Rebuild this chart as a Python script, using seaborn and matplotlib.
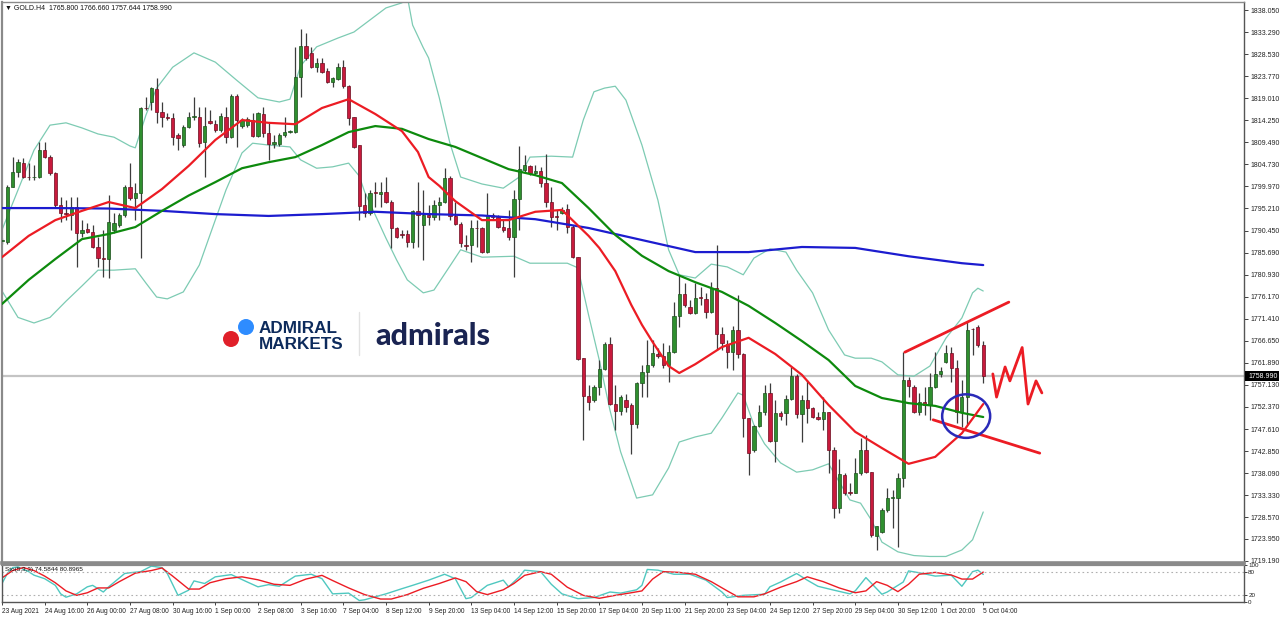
import numpy as np
import pandas as pd
import seaborn as sns
import matplotlib
matplotlib.use("Agg")
import matplotlib.pyplot as plt
from matplotlib.patches import Ellipse, Rectangle
from matplotlib.lines import Line2D

# ---------------- data ----------------
symbol_header = "\u25BC GOLD.H4  1765.800 1766.660 1757.644 1758.990"
stoch_header = "Sto(5,3,3) 74.5844 80.8965"
last_price = 1758.99

opens = [
    1788.2, 1788.0, 1799.8, 1803.1, 1805.0, 1802.0, 1801.9, 1802.0, 1807.8, 1806.3,
    1802.9, 1796.0, 1794.2, 1793.8, 1795.5, 1789.9, 1790.8, 1790.1, 1786.9, 1784.5,
    1784.3, 1790.6, 1791.6, 1793.8, 1799.8, 1797.5, 1798.5, 1816.9, 1818.2, 1821.0,
    1816.0, 1814.9, 1814.7, 1811.1, 1808.9, 1812.8, 1814.9, 1814.9, 1809.6, 1814.1,
    1813.4, 1812.2, 1814.9, 1810.6, 1819.5, 1813.0, 1813.2, 1814.3, 1810.8, 1815.6,
    1811.5, 1809.1, 1809.1, 1811.1, 1811.7, 1811.8, 1823.6, 1830.3, 1828.8, 1825.7,
    1826.6, 1824.9, 1822.5, 1823.2, 1825.7, 1821.6, 1814.9, 1808.9, 1796.0, 1794.2,
    1798.6, 1798.3, 1798.8, 1796.6, 1791.0, 1789.5, 1789.7, 1788.0, 1794.7, 1791.6,
    1793.8, 1793.4, 1796.0, 1796.6, 1801.8, 1793.6, 1791.9, 1787.3, 1787.3, 1791.0,
    1791.0, 1785.8, 1793.8, 1793.4, 1791.2, 1791.0, 1789.1, 1797.3, 1803.5, 1804.4,
    1802.9, 1803.3, 1800.7, 1796.6, 1793.4, 1794.2, 1795.1, 1791.2, 1784.7, 1762.9,
    1754.7, 1753.9, 1756.7, 1760.6, 1766.0, 1753.0, 1751.5, 1753.9, 1752.8, 1748.7,
    1757.5, 1759.9, 1761.4, 1763.8, 1763.4, 1761.4, 1764.2, 1772.0, 1776.7, 1773.9,
    1772.6, 1775.9, 1775.7, 1772.9, 1778.0, 1768.1, 1766.0, 1764.2, 1769.0, 1763.8,
    1750.0, 1743.1, 1748.3, 1751.3, 1755.4, 1745.0, 1751.1, 1751.1, 1754.1, 1759.0,
    1750.8, 1753.9, 1752.1, 1750.2, 1749.8, 1751.3, 1743.1, 1730.6, 1737.7, 1734.0,
    1733.9, 1738.1, 1743.1, 1738.3, 1724.5, 1725.4, 1730.1, 1732.7, 1732.7, 1737.0,
    1758.2, 1756.7, 1751.3, 1753.4, 1752.8, 1756.7, 1759.5, 1762.1, 1764.0, 1760.8,
    1751.3, 1754.5, 1769.2, 1769.6, 1765.8]
highs = [
    1788.8, 1800.3, 1806.3, 1805.9, 1806.1, 1805.0, 1804.6, 1809.6, 1809.6, 1806.8,
    1803.1, 1797.7, 1797.0, 1797.7, 1797.7, 1792.7, 1792.1, 1791.6, 1789.1, 1790.6,
    1798.1, 1794.2, 1794.2, 1800.3, 1805.0, 1800.7, 1817.1, 1819.3, 1821.4, 1823.4,
    1818.2, 1815.8, 1815.8, 1811.5, 1813.2, 1816.0, 1819.3, 1817.1, 1817.1, 1816.5,
    1814.3, 1815.8, 1817.1, 1819.9, 1819.9, 1814.7, 1814.9, 1815.8, 1816.0, 1817.1,
    1813.7, 1811.1, 1811.5, 1814.9, 1812.2, 1830.1, 1833.9, 1833.1, 1830.1, 1827.7,
    1827.7, 1825.5, 1823.6, 1826.6, 1827.3, 1821.9, 1814.9, 1808.9, 1798.6, 1799.2,
    1800.9, 1800.9, 1802.0, 1797.0, 1791.2, 1790.6, 1790.6, 1794.9, 1800.9, 1799.2,
    1796.0, 1797.0, 1797.7, 1803.9, 1802.2, 1796.6, 1792.3, 1789.5, 1792.7, 1792.7,
    1791.2, 1798.6, 1794.2, 1793.8, 1792.7, 1794.9, 1799.2, 1808.7, 1806.8, 1804.6,
    1804.6, 1804.2, 1807.0, 1799.8, 1794.9, 1795.5, 1796.2, 1791.6, 1784.7, 1762.9,
    1757.1, 1757.1, 1762.5, 1766.4, 1767.5, 1757.1, 1754.9, 1755.2, 1753.2, 1757.8,
    1761.4, 1766.8, 1766.8, 1765.1, 1766.2, 1765.7, 1775.0, 1780.8, 1779.1, 1775.5,
    1779.1, 1778.3, 1776.9, 1779.3, 1787.3, 1769.6, 1766.8, 1769.8, 1776.5, 1764.0,
    1750.0, 1748.5, 1752.8, 1757.1, 1757.5, 1753.9, 1751.5, 1754.9, 1761.0, 1759.5,
    1754.9, 1758.2, 1752.4, 1751.3, 1754.5, 1751.3, 1743.7, 1741.1, 1738.1, 1735.9,
    1741.3, 1745.7, 1746.3, 1738.3, 1726.6, 1730.6, 1734.9, 1734.5, 1738.1, 1764.2,
    1758.8, 1757.1, 1755.4, 1756.7, 1759.7, 1764.2, 1761.0, 1765.7, 1765.3, 1762.5,
    1758.2, 1770.7, 1769.4, 1770.1, 1766.66]
lows = [
    1787.5, 1787.5, 1799.8, 1802.0, 1801.8, 1801.4, 1801.4, 1801.8, 1806.1, 1802.4,
    1795.5, 1792.3, 1792.7, 1790.6, 1782.6, 1789.1, 1789.9, 1786.7, 1782.6, 1780.4,
    1780.2, 1789.9, 1791.2, 1793.4, 1797.0, 1792.7, 1784.5, 1816.5, 1816.5, 1813.7,
    1812.8, 1814.3, 1808.9, 1807.8, 1808.5, 1812.6, 1814.3, 1808.5, 1802.0, 1813.4,
    1811.7, 1811.7, 1809.3, 1810.4, 1808.5, 1812.6, 1812.8, 1810.6, 1810.6, 1810.6,
    1805.7, 1808.3, 1808.7, 1810.6, 1811.5, 1811.5, 1819.3, 1827.3, 1825.5, 1824.7,
    1824.5, 1822.3, 1821.4, 1822.9, 1821.2, 1813.2, 1808.3, 1792.7, 1793.4, 1793.8,
    1795.5, 1795.5, 1796.4, 1786.7, 1788.8, 1788.8, 1786.9, 1786.7, 1786.9, 1784.1,
    1791.6, 1792.7, 1792.7, 1796.4, 1792.7, 1791.6, 1786.9, 1786.3, 1783.7, 1786.9,
    1785.6, 1785.6, 1792.7, 1791.0, 1790.1, 1788.4, 1780.4, 1790.6, 1802.9, 1802.4,
    1802.4, 1799.8, 1795.5, 1791.2, 1790.6, 1794.0, 1789.9, 1784.5, 1762.5, 1745.2,
    1751.7, 1753.4, 1754.9, 1760.4, 1752.8, 1747.4, 1750.6, 1751.3, 1742.2, 1747.8,
    1754.5, 1754.5, 1761.0, 1762.9, 1760.8, 1757.7, 1764.0, 1769.6, 1773.9, 1772.4,
    1772.4, 1774.4, 1771.6, 1772.6, 1764.7, 1764.7, 1760.8, 1760.4, 1762.9, 1745.9,
    1737.7, 1742.7, 1748.1, 1750.6, 1744.8, 1740.5, 1749.6, 1748.5, 1753.9, 1750.0,
    1744.8, 1748.9, 1750.0, 1749.6, 1747.4, 1738.1, 1728.4, 1729.5, 1733.4, 1733.4,
    1733.8, 1737.7, 1738.1, 1724.3, 1721.5, 1725.2, 1729.7, 1726.2, 1722.1, 1735.1,
    1754.5, 1751.1, 1750.6, 1750.6, 1749.6, 1756.5, 1758.8, 1761.9, 1757.7, 1748.9,
    1748.1, 1748.5, 1763.6, 1765.3, 1757.644]
closes = [
    1788.2, 1799.8, 1803.1, 1805.2, 1802.0, 1801.9, 1802.0, 1807.8, 1806.3, 1802.9,
    1796.0, 1794.2, 1794.1, 1795.5, 1789.9, 1790.6, 1790.1, 1786.9, 1784.5, 1784.4,
    1792.3, 1792.1, 1793.8, 1799.8, 1797.5, 1798.5, 1816.9, 1816.8, 1821.2, 1816.0,
    1814.9, 1814.7, 1810.6, 1810.4, 1812.8, 1814.9, 1815.2, 1809.4, 1813.0, 1813.7,
    1812.2, 1815.2, 1810.6, 1819.5, 1814.3, 1814.3, 1814.5, 1810.8, 1815.8, 1811.5,
    1809.1, 1809.6, 1811.1, 1811.7, 1811.8, 1823.6, 1830.3, 1827.7, 1825.7, 1826.6,
    1824.7, 1822.5, 1823.4, 1825.7, 1821.6, 1814.7, 1808.5, 1795.8, 1794.2, 1798.6,
    1798.5, 1798.8, 1796.6, 1791.0, 1789.1, 1789.4, 1788.0, 1794.7, 1793.8, 1793.8,
    1793.4, 1796.0, 1796.6, 1801.8, 1793.6, 1791.9, 1787.8, 1787.2, 1791.0, 1790.9,
    1785.8, 1793.8, 1793.4, 1791.2, 1790.6, 1789.1, 1797.3, 1803.7, 1804.6, 1802.9,
    1803.3, 1800.7, 1796.6, 1793.4, 1793.3, 1794.9, 1791.2, 1784.7, 1762.7, 1754.7,
    1753.4, 1756.7, 1760.6, 1766.0, 1753.0, 1751.5, 1754.5, 1752.4, 1748.7, 1757.5,
    1759.9, 1761.4, 1764.0, 1763.4, 1761.4, 1764.2, 1772.0, 1776.7, 1774.4, 1772.6,
    1775.9, 1775.8, 1772.9, 1778.0, 1768.1, 1766.2, 1764.2, 1769.0, 1763.8, 1750.0,
    1742.4, 1748.3, 1751.3, 1755.4, 1745.0, 1751.1, 1750.4, 1754.1, 1759.0, 1750.8,
    1753.9, 1752.1, 1750.2, 1749.8, 1751.3, 1743.1, 1730.6, 1737.9, 1733.8, 1733.9,
    1738.1, 1743.1, 1738.3, 1724.7, 1726.6, 1730.1, 1732.7, 1732.8, 1737.0, 1758.2,
    1756.9, 1751.3, 1753.4, 1752.8, 1756.7, 1759.5, 1760.1, 1764.0, 1760.8, 1751.3,
    1754.5, 1769.0, 1769.1, 1765.8, 1758.99]

# moving averages (sampled at bar numbers)
ma_red_bar = [0, 5, 10, 15, 20, 25, 30, 35, 40, 45, 50, 55, 60, 65, 70, 75, 78, 80, 82, 85,
              90, 95, 100, 105, 110, 112, 115, 118, 120, 122, 125, 127, 130, 135, 140, 145,
              150, 155, 160, 165, 170, 175, 180, 184]
ma_red_val = [1784.7, 1789.3, 1792.7, 1794.7, 1796.6, 1795.3, 1799.4, 1804.4, 1810.0, 1814.3,
              1813.7, 1813.4, 1816.9, 1818.8, 1815.6, 1811.9, 1807.4, 1802.0, 1800.1, 1796.8,
              1792.7, 1792.7, 1794.5, 1794.9, 1789.3, 1786.7, 1781.7, 1774.4, 1770.1, 1766.4,
              1761.2, 1759.7, 1761.6, 1765.3, 1767.3, 1763.8, 1759.3, 1752.8, 1747.0, 1743.5,
              1740.1, 1741.6, 1746.7, 1753.0]
ma_green_bar = [0, 5, 10, 15, 20, 25, 30, 35, 40, 45, 50, 55, 60, 65, 70, 75, 80, 85, 90, 95,
                100, 105, 110, 115, 120, 125, 130, 135, 140, 145, 150, 155, 160, 165, 170,
                175, 180, 184]
ma_green_val = [1774.6, 1779.8, 1784.3, 1788.6, 1789.7, 1791.2, 1794.7, 1798.0, 1800.9, 1803.9,
                1805.2, 1806.3, 1808.9, 1811.7, 1813.0, 1812.4, 1810.2, 1808.5, 1806.1, 1803.7,
                1802.4, 1800.7, 1795.3, 1789.5, 1785.0, 1781.7, 1779.3, 1777.2, 1774.2, 1770.5,
                1766.6, 1762.5, 1756.9, 1754.3, 1753.2, 1752.6, 1751.1, 1750.2]
ma_blue_bar = [0, 10, 20, 30, 40, 50, 60, 70, 80, 90, 100, 110, 120, 130, 140, 150, 160, 170,
               180, 184]
ma_blue_val = [1795.3, 1795.3, 1795.2, 1794.7, 1794.0, 1793.6, 1794.0, 1794.5, 1794.0, 1793.7,
               1792.9, 1791.0, 1788.4, 1785.8, 1785.8, 1786.9, 1786.7, 1784.9, 1783.4, 1783.0]

# Bollinger bands
bb_up_bar = [0, 3, 6, 9, 12, 15, 18, 21, 24, 25, 27, 29, 32, 36, 40, 44, 48, 52, 54, 56,
             59, 63, 66, 69, 72, 75, 76, 77, 79, 80, 82, 84, 86, 90, 94, 97, 99, 103, 107, 109,
             111, 113, 115, 117, 120, 123, 125, 127, 130, 133, 136, 139, 141, 144, 147, 149,
             152, 155, 158, 160, 163, 165, 168, 171, 174, 177, 180, 182, 183, 184]
bb_up_val = [1790.6, 1799.2, 1807.8, 1813.2, 1813.7, 1812.6, 1811.3, 1810.6, 1808.7, 1808.3,
             1815.4, 1821.2, 1825.7, 1828.8, 1826.8, 1822.9, 1819.1, 1818.2, 1818.8, 1826.0,
             1830.1, 1832.0, 1833.3, 1835.9, 1838.5, 1839.6, 1841.0, 1834.8, 1829.9, 1827.7,
             1819.1, 1809.3, 1802.0, 1800.5, 1799.6, 1802.0, 1806.3, 1806.5, 1806.3, 1814.3,
             1820.4, 1821.2, 1821.6, 1818.6, 1808.9, 1797.0, 1786.3, 1780.9, 1780.2, 1783.2,
             1782.6, 1780.9, 1784.5, 1786.5, 1785.8, 1781.9, 1777.0, 1769.0, 1763.6, 1762.9,
             1762.9, 1762.1, 1759.3, 1759.0, 1761.2, 1767.2, 1771.6, 1777.0, 1778.0, 1777.4]
bb_lo_bar = [0, 3, 6, 9, 12, 15, 18, 21, 25, 27, 29, 31, 34, 37, 39, 42, 45, 47, 50, 54,
             56, 59, 62, 65, 67, 68, 70, 72, 74, 76, 79, 81, 84, 86, 90, 96, 99, 106, 108, 110,
             112, 114, 116, 119, 122, 125, 127, 130, 133, 135, 138, 139, 141, 143, 146, 149,
             152, 155, 157, 159, 161, 163, 165, 168, 171, 174, 177, 180, 182, 184]
bb_lo_val = [1777.4, 1771.7, 1770.5, 1771.7, 1775.2, 1778.5, 1781.9, 1781.9, 1782.2, 1779.1,
             1776.1, 1775.7, 1777.2, 1783.0, 1789.5, 1799.2, 1807.2, 1809.3, 1808.9, 1808.5,
             1805.7, 1803.9, 1804.2, 1805.0, 1802.2, 1798.8, 1793.8, 1788.8, 1784.1, 1779.8,
             1777.0, 1777.6, 1782.8, 1786.3, 1784.7, 1784.9, 1783.4, 1783.4, 1782.4, 1772.2,
             1762.5, 1751.7, 1742.7, 1732.7, 1733.4, 1739.2, 1744.8, 1745.9, 1746.7, 1750.0,
             1755.4, 1754.9, 1748.5, 1744.4, 1740.3, 1738.3, 1738.8, 1740.1, 1736.2, 1732.3,
             1731.6, 1728.0, 1723.2, 1721.1, 1720.3, 1720.1, 1720.1, 1721.5, 1723.7, 1729.7]

# Stochastic (5,3,3)
sto_main_bar = [0, 1, 2, 3, 5, 6, 8, 10, 11, 12, 14, 16, 17, 19, 20, 23, 24, 26, 28, 30,
                31, 33, 35, 36, 38, 40, 43, 46, 48, 50, 52, 55, 58, 60, 62, 65, 67, 68, 72, 75,
                77, 80, 83, 85, 87, 88, 91, 94, 95, 97, 98, 101, 103, 105, 108, 111, 114, 116,
                119, 120, 121, 123, 126, 129, 132, 135, 136, 139, 143, 144, 146, 149, 151, 153,
                156, 159, 160, 162, 165, 166, 169, 170, 172, 175, 178, 180, 182, 183, 184]
sto_main_val = [50, 77, 93, 95, 82, 72.5, 63, 45, 22, 13, 22, 41, 45, 27, 41, 77, 79, 82, 97, 93,
                77, 18, 32, 57, 50, 68, 74, 54, 41, 47, 42.5, 70, 75, 63, 22, 24, 4, 6, 22, 36,
                45, 59, 75, 63, 9, 12, 45, 59, 41, 68, 86, 82, 48, 22, 9, 12, 27, 24, 33, 45,
                88, 86, 75, 75, 59, 27, 12, 18, 21, 41, 54, 77, 59, 42.5, 32, 22, 30, 66, 21,
                27, 54, 84, 79, 70, 72.5, 42.5, 82, 86, 74.58]
sto_sig_bar = [0, 2, 4, 6, 8, 10, 12, 14, 16, 18, 20, 22, 25, 28, 30, 32, 35, 37, 39, 42,
               45, 48, 51, 54, 57, 60, 62, 65, 68, 71, 73, 76, 79, 82, 85, 87, 89, 91, 94, 96,
               98, 101, 103, 106, 109, 112, 115, 118, 120, 122, 124, 127, 130, 133, 136, 138,
               141, 143, 146, 149, 151, 154, 157, 160, 162, 164, 166, 168, 170, 172, 175, 178,
               180, 182, 184]
sto_sig_val = [65, 85, 93, 85, 70, 52, 30, 18, 25, 38, 38, 55, 78, 85, 92, 70, 35, 35, 52, 63,
               68, 60, 48, 45, 62, 72, 58, 38, 20, 8, 8, 20, 37, 50, 65, 55, 28, 20, 33, 50,
               72, 82, 75, 40, 18, 10, 18, 25, 30, 62, 82, 80, 75, 55, 30, 14, 14, 22, 40, 55,
               68, 55, 38, 25, 30, 55, 45, 28, 48, 75, 80, 73, 62, 62, 80.9]

# axis labels
price_ticks = ["1838.050", "1833.290", "1828.530", "1823.770", "1819.010", "1814.250",
               "1809.490", "1804.730", "1799.970", "1795.210", "1790.450", "1785.690",
               "1780.930", "1776.170", "1771.410", "1766.650", "1761.890", "1757.130",
               "1752.370", "1747.610", "1742.850", "1738.090", "1733.330", "1728.570",
               "1723.950", "1719.190"]
date_labels = ["23 Aug 2021", "24 Aug 16:00", "26 Aug 00:00", "27 Aug 08:00", "30 Aug 16:00",
               "1 Sep 00:00", "2 Sep 08:00", "3 Sep 16:00", "7 Sep 04:00", "8 Sep 12:00",
               "9 Sep 20:00", "13 Sep 04:00", "14 Sep 12:00", "15 Sep 20:00", "17 Sep 04:00",
               "20 Sep 11:00", "21 Sep 20:00", "23 Sep 04:00", "24 Sep 12:00", "27 Sep 20:00",
               "29 Sep 04:00", "30 Sep 12:00", "1 Oct 20:00", "5 Oct 04:00"]

# analyst annotations (bar number, price)
trend_up_bar, trend_up_px = [169.3, 188.8], [1764.2, 1775.0]
trend_dn_bar, trend_dn_px = [174.6, 194.6], [1749.6, 1742.4]
zigzag_bar = [185.8, 186.5, 188.1, 189.0, 191.3, 192.4, 193.9, 195.0]
zigzag_px = [1759.5, 1754.5, 1761.0, 1758.0, 1765.2, 1753.0, 1758.0, 1755.4]
circle_bar, circle_px = 180.8, 1750.4

# ---------------- drawing ----------------
sns.set_theme(style="white")
plt.rcParams['font.family'] = ['Liberation Sans', 'DejaVu Sans']

W, H = 1280, 617
fig = plt.figure(figsize=(W / 100, H / 100), dpi=100)
fig.patch.set_facecolor("white")


def rect(l, t, r, b):
    return [l / W, 1 - b / H, (r - l) / W, (b - t) / H]


ax = fig.add_axes(rect(2, 2, 1244, 563))
axs = fig.add_axes(rect(2, 565, 1244, 602), sharex=ax)

df = pd.DataFrame(dict(o=opens, h=highs, l=lows, c=closes))
df["bar"] = np.arange(len(df))
up = df.c >= df.o

# Bollinger bands
for bx, by in ((bb_up_bar, bb_up_val), (bb_lo_bar, bb_lo_val)):
    sns.lineplot(x=bx, y=by, ax=ax, color="#7dcbb3", linewidth=0.9, estimator=None,
                 sort=False, zorder=1)

# candles
ax.vlines(df.bar, df.l, df.h, color="#3c3c3c", linewidth=0.9, zorder=2)
bottom = np.minimum(df.o, df.c)
height = np.maximum((df.c - df.o).abs(), 0.2)
ax.bar(df.bar[up], height[up], bottom=bottom[up], width=0.6, color="#2f8f2f",
       edgecolor="#1b4f1b", linewidth=0.5, zorder=3)
ax.bar(df.bar[~up], height[~up], bottom=bottom[~up], width=0.6, color="#c81a3c",
       edgecolor="#6e0c1f", linewidth=0.5, zorder=3)

# moving averages
sns.lineplot(x=ma_blue_bar, y=ma_blue_val, ax=ax, color="#1c1ccf", linewidth=1.6,
             estimator=None, sort=False, zorder=4)
sns.lineplot(x=ma_green_bar, y=ma_green_val, ax=ax, color="#0d8a0d", linewidth=1.6,
             estimator=None, sort=False, zorder=4)
sns.lineplot(x=ma_red_bar, y=ma_red_val, ax=ax, color="#ec1c24", linewidth=1.6,
             estimator=None, sort=False, zorder=4)

# current price line
ax.axhline(last_price, color="#c4c4c4", linewidth=1.6, zorder=0.5)

# annotations
ax.plot(trend_up_bar, trend_up_px, color="#ec1c24", linewidth=2, zorder=6)
ax.plot(trend_dn_bar, trend_dn_px, color="#ec1c24", linewidth=2, zorder=6)
ax.plot(zigzag_bar, zigzag_px, color="#ec1c24", linewidth=2, zorder=6)
ax.add_patch(Ellipse((circle_bar, circle_px), 9.0, 9.4, fill=False,
                     edgecolor="#2a2ab8", linewidth=1.8, zorder=6))

ax.set_xlim(0, 232.9)
ax.set_ylim(1718.69, 1839.78)
ax.yaxis.tick_right()
ax.set_yticks([float(t) for t in price_ticks])
ax.set_yticklabels(price_ticks)
ax.tick_params(axis="y", which="both", right=True, length=3, width=0.6, pad=1.5,
               labelsize=5, colors="#222222", direction="out")
ax.tick_params(axis="x", bottom=False, labelbottom=False)
ax.set_xlabel("")
ax.set_ylabel("")
for name, sp in ax.spines.items():
    sp.set_color("#8a8a8a")
    sp.set_linewidth(1.0)
ax.spines["left"].set_linewidth(1.6)
ax.spines["bottom"].set_linewidth(2.6)
ax.spines["right"].set_color("#555555")

# stochastic panel
sns.lineplot(x=sto_main_bar, y=sto_main_val, ax=axs, color="#4fc8c0", linewidth=1.0,
             estimator=None, sort=False)
sns.lineplot(x=sto_sig_bar, y=sto_sig_val, ax=axs, color="#ec1c24", linewidth=1.0,
             estimator=None, sort=False)
for lvl in (80, 20):
    axs.axhline(lvl, color="#b0b0b0", linewidth=0.8, linestyle=(0, (1.5, 2.5)))
axs.set_ylim(0, 100)
axs.yaxis.tick_right()
axs.set_yticks([100, 80, 20, 0])
axs.set_yticklabels(["100", "80", "20", "0"])
axs.tick_params(axis="y", right=True, length=2, width=0.6, pad=1, labelsize=4.5,
                colors="#222222")
axs.set_xticks(np.arange(0, 8 * len(date_labels), 8))
axs.set_xticklabels(date_labels)
axs.tick_params(axis="x", bottom=True, length=2.5, width=0.6, pad=1.5, labelsize=4.8,
                colors="#222222")
for lab in axs.get_xticklabels():
    lab.set_ha("left")
axs.set_xlabel("")
axs.set_ylabel("")
for name, sp in axs.spines.items():
    sp.set_color("#555555")
    sp.set_linewidth(1.0)
axs.spines["top"].set_color("#8a8a8a")
axs.spines["top"].set_linewidth(1.6)
axs.set_xlim(0, 232.9)

# header texts
fig.text(5 / W, 1 - 8 / H, symbol_header, fontsize=5, va="center", ha="left",
         color="#111111", family=["Liberation Sans", "DejaVu Sans"])
fig.text(5 / W, 1 - 570 / H, stoch_header, fontsize=4.6, va="center", ha="left",
         color="#111111")

# current price tag on the axis
fig.add_artist(Rectangle((1245 / W, 1 - 381 / H), 34 / W, 10 / H, transform=fig.transFigure,
                         facecolor="black", edgecolor="none", zorder=10))
fig.text(1248 / W, 1 - 376 / H, "1758.990", fontsize=5, color="white", va="center",
         ha="left", zorder=11)

# logo
fig.add_artist(Ellipse((231 / W, 1 - 339 / H), 16 / W, 16 / H, transform=fig.transFigure,
                       facecolor="#e0202a", edgecolor="none", zorder=10))
fig.add_artist(Ellipse((246 / W, 1 - 327 / H), 16 / W, 16 / H, transform=fig.transFigure,
                       facecolor="#2e8cff", edgecolor="none", zorder=10))
fig.text(259 / W, 1 - 333 / H, "ADMIRAL", fontsize=12.3, fontweight="bold",
         color="#0d2b5c", ha="left", va="baseline", zorder=11)
fig.text(259 / W, 1 - 349 / H, "MARKETS", fontsize=12.3, fontweight="bold",
         color="#0d2b5c", ha="left", va="baseline", zorder=11)
fig.add_artist(Line2D([359 / W, 359 / W], [1 - 312 / H, 1 - 355 / H],
                      transform=fig.transFigure, color="#e2e2e2", linewidth=1, zorder=10))
fig.text(375 / W, 1 - 345 / H, "admirals", fontsize=22, fontweight="black",
         family=["Lato", "DejaVu Sans"], color="#1a2452", ha="left", va="baseline", zorder=11)

fig.savefig("out.png", dpi=100, facecolor="white")
